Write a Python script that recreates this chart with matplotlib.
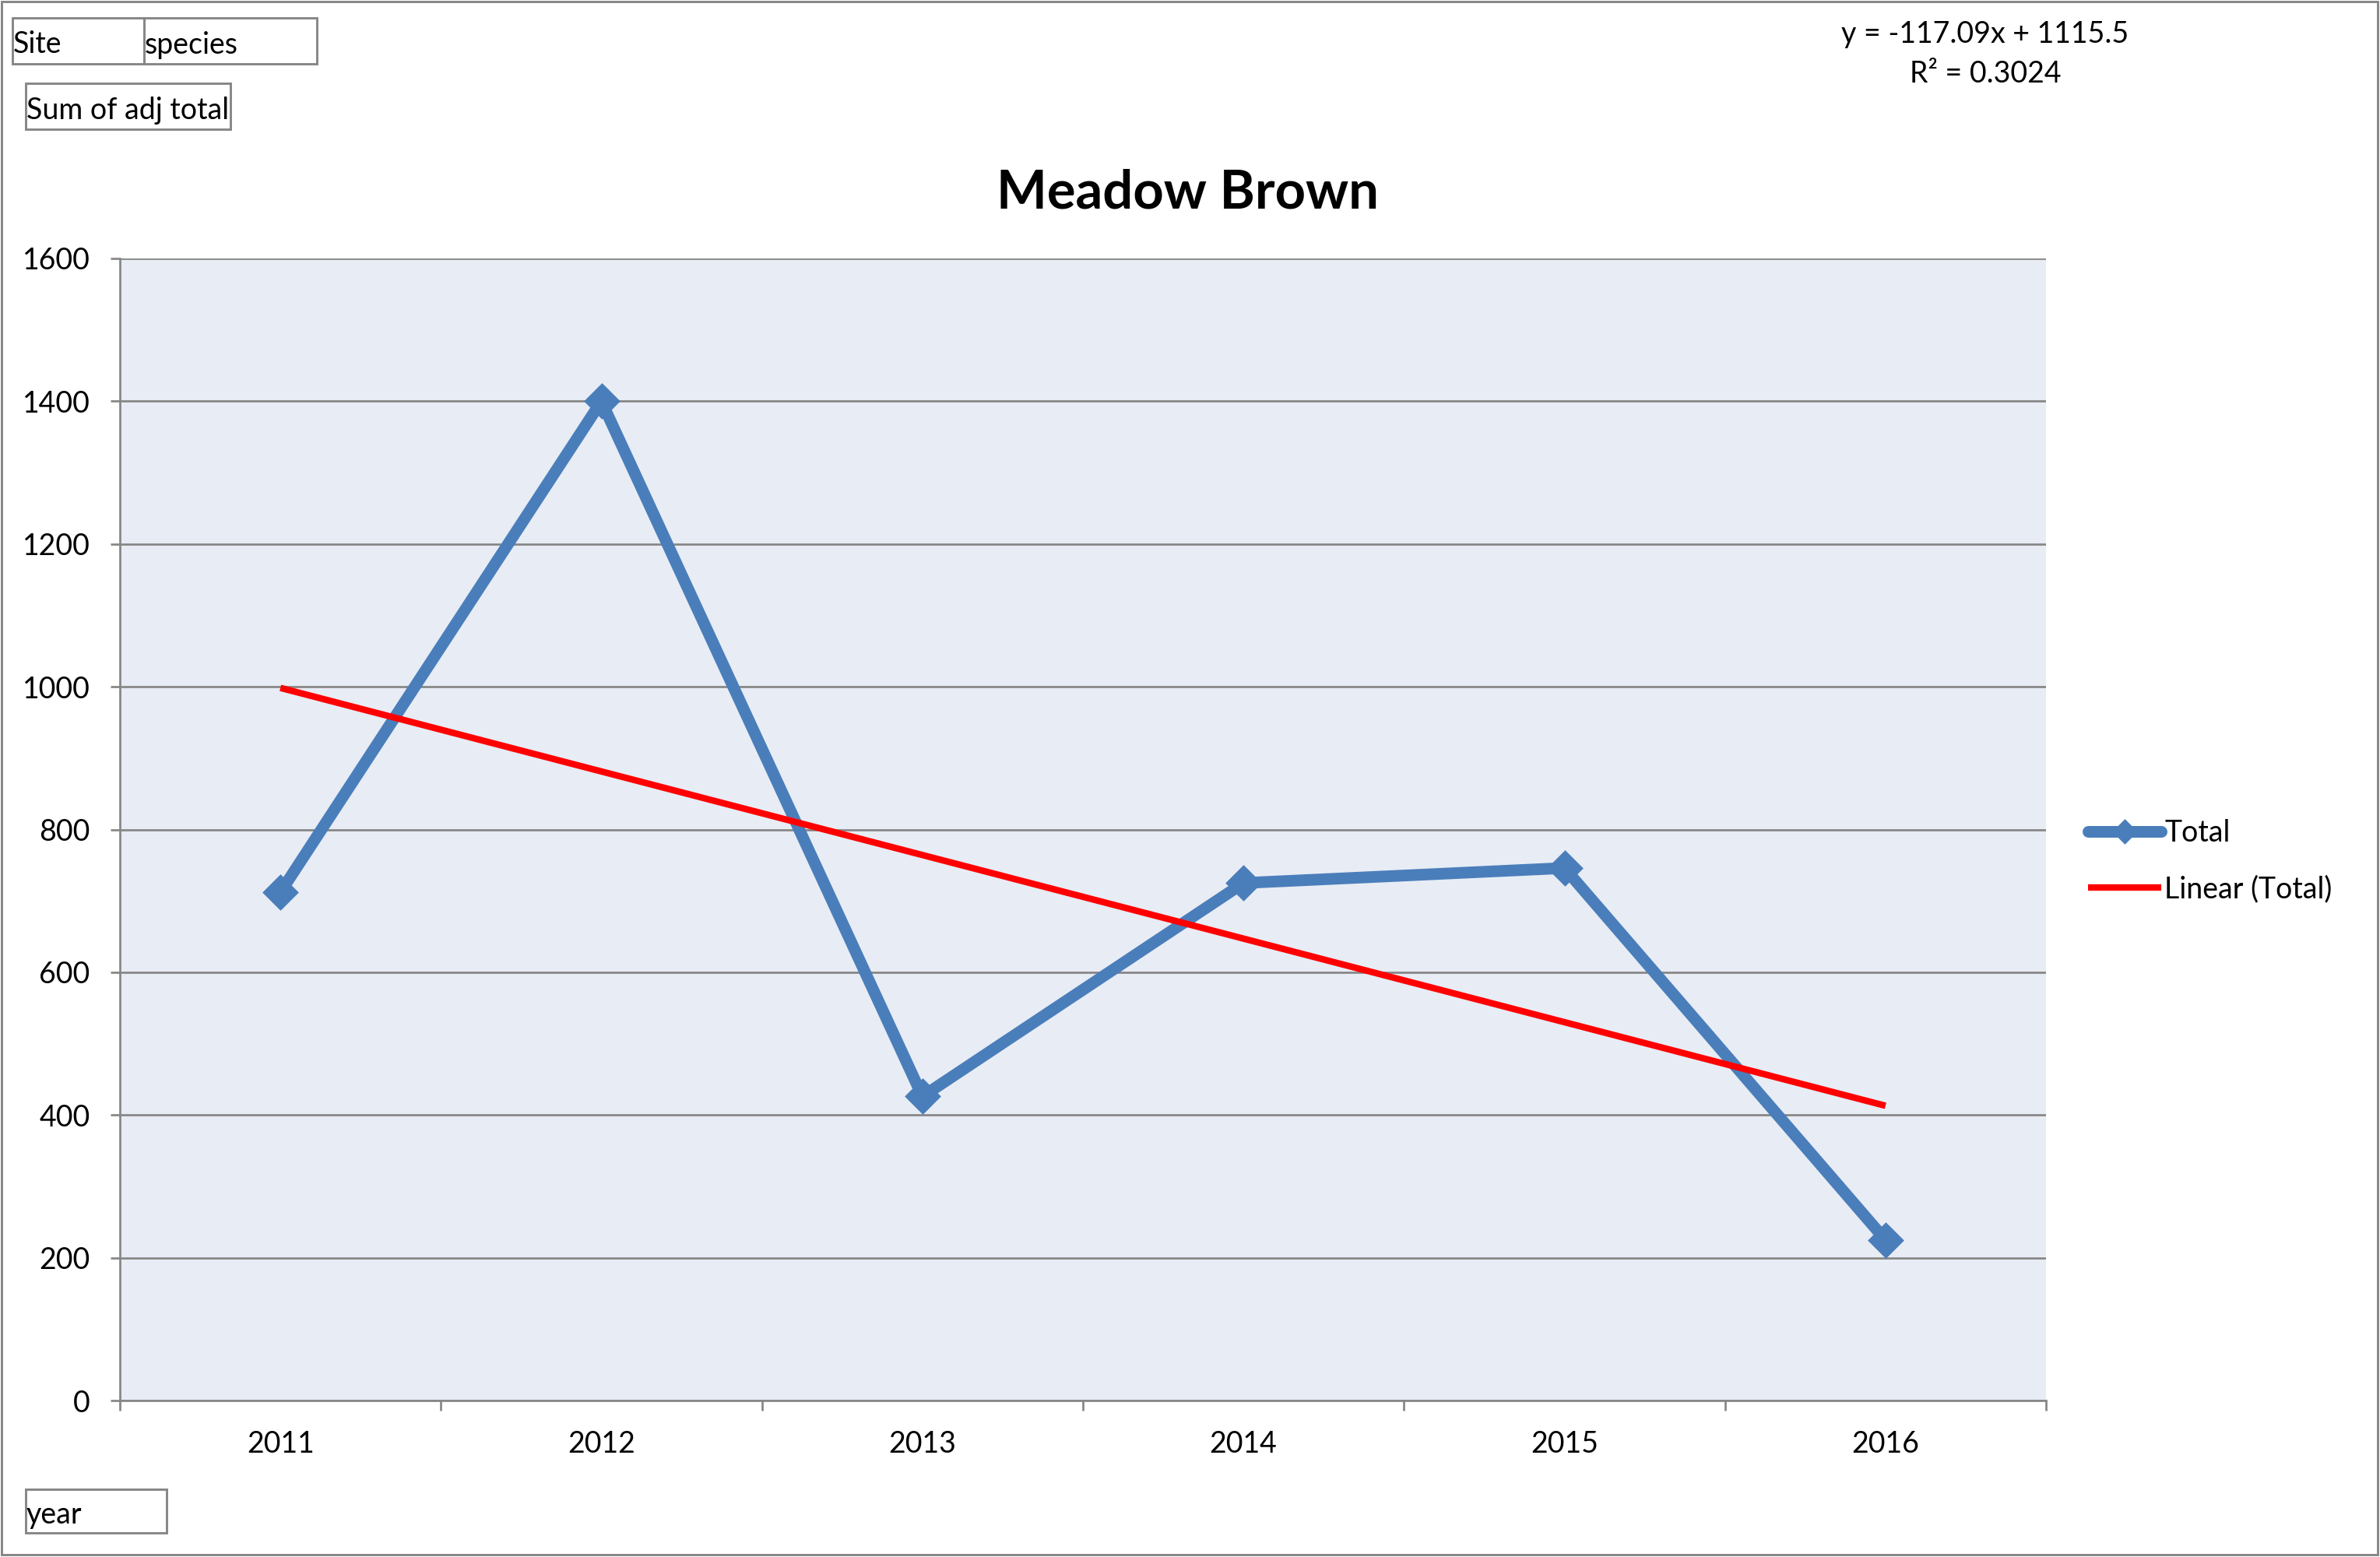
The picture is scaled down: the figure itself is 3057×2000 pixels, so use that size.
import matplotlib
matplotlib.use('Agg')
import matplotlib.pyplot as plt
from matplotlib.patches import Rectangle
import numpy as np

# ---------------- data ----------------
years = ['2011', '2012', '2013', '2014', '2015', '2016']
totals = [712, 1400, 426, 725, 746, 225]
y_ticks = [0, 200, 400, 600, 800, 1000, 1200, 1400, 1600]
title_text = 'Meadow Brown'
series_label = 'Total'
trend_label = 'Linear (Total)'
equation_lines = ['y = -117.09x + 1115.5', 'R\u00b2 = 0.3024']
filter_fields = ['Site', 'species']
value_field = 'Sum of adj total'
axis_field = 'year'

# ---------------- styling ----------------
plt.rcParams['font.family'] = ['Lato', 'DejaVu Sans']
W, H, DPI = 3057, 2000, 300
GRAY = '#868686'
BLUE = '#4A7EBB'
FS = 9


def fx(px):
    return px / W


def fy(py):
    return 1 - py / H


fig = plt.figure(figsize=(W / DPI, H / DPI), dpi=DPI)
fig.patch.set_facecolor('white')

# outer chart border
fig.add_artist(Rectangle((fx(2), fy(1997)), fx(3054) - fx(2), fy(2) - fy(1997),
                         transform=fig.transFigure, fill=False,
                         edgecolor=GRAY, lw=0.7))

ax = fig.add_axes([fx(154), fy(1799), fx(2628) - fx(154), fy(332) - fy(1799)])
ax.set_facecolor('#E8ECF4')

x = np.arange(len(years))
ax.plot(x, totals, color=BLUE, lw=3.6, marker='D', ms=7.0, mec=BLUE, mfc=BLUE,
        mew=0.8, solid_capstyle='round', solid_joinstyle='round', zorder=3,
        label=series_label)

xn = np.arange(1, len(years) + 1)
coef = np.polyfit(xn, totals, 1)
trend = np.polyval(coef, xn)
ax.plot(x, trend, color='#FF0000', lw=2.0, solid_capstyle='butt', zorder=4,
        label=trend_label)

ax.set_xlim(-0.5, len(years) - 0.5)
ax.set_ylim(0, 1600)
ax.set_yticks(y_ticks)
ax.set_yticklabels([str(v) for v in y_ticks], fontsize=FS)

ax.set_xticks(np.arange(-0.5, len(years), 1.0))
ax.set_xticklabels([])
ax.set_xticks(x, minor=True)
ax.set_xticklabels(years, minor=True, fontsize=FS)
ax.tick_params(axis='x', which='major', direction='out', length=3.1, width=0.65,
               color=GRAY)
ax.tick_params(axis='x', which='minor', length=0, pad=9.2)
ax.tick_params(axis='y', direction='out', length=2.9, width=0.65, color=GRAY,
               pad=6.3)

ax.yaxis.grid(True, color=GRAY, lw=0.65)
ax.set_axisbelow(True)
for s in ['top', 'right']:
    ax.spines[s].set_visible(False)
for s in ['left', 'bottom']:
    ax.spines[s].set_color(GRAY)
    ax.spines[s].set_linewidth(0.65)
    ax.spines[s].set_zorder(2.5)

# title
fig.text(fx(1525), fy(268), title_text, ha='center', va='baseline',
         fontsize=16.5, fontweight='bold')

# trendline equation
fig.text(fx(2550), fy(44), equation_lines[0], ha='center', va='center', fontsize=FS)
fig.text(fx(2550), fy(95), equation_lines[1], ha='center', va='center', fontsize=FS)

# legend
handles, labels = ax.get_legend_handles_labels()
fig.legend(handles, labels, loc='center left',
           bbox_to_anchor=(fx(2682), fy(1106)), frameon=False, borderpad=0,
           borderaxespad=0, handlelength=2.5, handletextpad=0.12,
           labelspacing=0.95, markerscale=0.7, fontsize=FS)


# pivot field buttons
def field_button(x0, x1, y0, y1, label):
    fig.add_artist(Rectangle((fx(x0), fy(y1)), fx(x1) - fx(x0), fy(y0) - fy(y1),
                             transform=fig.transFigure, fill=False,
                             edgecolor=GRAY, lw=0.7))
    fig.text(fx(x0 + 1), fy((y0 + y1) / 2 + 5), label, ha='left', va='center',
             fontsize=FS)


field_button(16, 185, 23, 82, filter_fields[0])
field_button(185, 407, 23, 82, filter_fields[1])
field_button(33, 296, 107, 166, value_field)
field_button(33, 214, 1913, 1969, axis_field)

fig.savefig('out.png', dpi=DPI, facecolor='white')
